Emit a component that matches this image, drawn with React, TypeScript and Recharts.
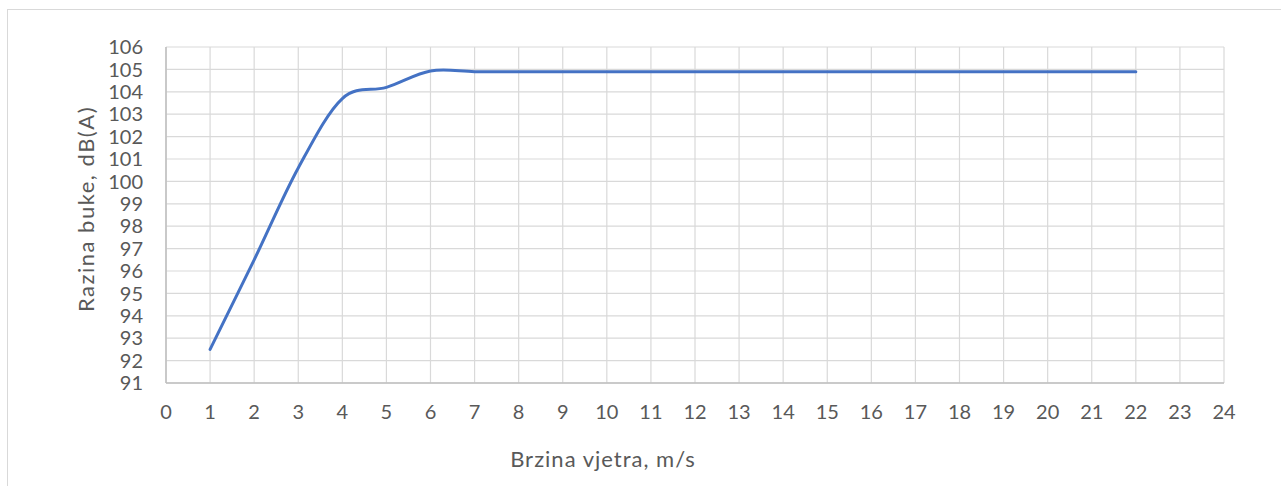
import React from "react";
import { LineChart, Line, XAxis, YAxis, CartesianGrid } from "recharts";

const windSpeeds = [1, 2, 3, 4, 5, 6, 7, 8, 9, 10, 11, 12, 13, 14, 15, 16, 17, 18, 19, 20, 21, 22];
const noiseLevels = [
  92.5, 96.5, 100.6, 103.7, 104.2, 104.93, 104.9, 104.9, 104.9, 104.9, 104.9, 104.9, 104.9, 104.9, 104.9, 104.9,
  104.9, 104.9, 104.9, 104.9, 104.9, 104.9,
];
const xTicks = [0, 1, 2, 3, 4, 5, 6, 7, 8, 9, 10, 11, 12, 13, 14, 15, 16, 17, 18, 19, 20, 21, 22, 23, 24];
const yTicks = [91, 92, 93, 94, 95, 96, 97, 98, 99, 100, 101, 102, 103, 104, 105, 106];

const chartData = windSpeeds.map((v, i) => ({ speed: v, level: noiseLevels[i] }));

const FONT = "Lato, 'Open Sans', sans-serif";
const TEXT = "#595959";

// Excel-like smoothed line (Catmull-Rom through the points)
function excelSmooth(context: any) {
  let pts: number[][] = [];
  return {
    areaStart() {},
    areaEnd() {},
    lineStart() {
      pts = [];
    },
    lineEnd() {
      if (!pts.length) return;
      context.moveTo(pts[0][0], pts[0][1]);
      for (let i = 0; i < pts.length - 1; i++) {
        const p0 = pts[i - 1] || pts[i];
        const p1 = pts[i];
        const p2 = pts[i + 1];
        const p3 = pts[i + 2] || p2;
        context.bezierCurveTo(
          p1[0] + (p2[0] - p0[0]) / 6,
          p1[1] + (p2[1] - p0[1]) / 6,
          p2[0] - (p3[0] - p1[0]) / 6,
          p2[1] - (p3[1] - p1[1]) / 6,
          p2[0],
          p2[1]
        );
      }
    },
    point(x: number, y: number) {
      pts.push([+x, +y]);
    },
  };
}

export default function App() {
  return (
    <div style={{ position: "absolute", left: 0, top: 0, width: 1281, height: 486, overflow: "hidden", background: "#fff" }}>
      <div
        style={{
          position: "absolute",
          left: 7,
          top: 9,
          width: 1400,
          height: 600,
          border: "1px solid #d9d9d9",
        }}
      />
      <LineChart
        width={1281}
        height={486}
        data={chartData}
        margin={{ top: 47, right: 57, left: 106, bottom: 53 }}
        style={{ position: "absolute", left: 0, top: 0 }}
      >
        <CartesianGrid stroke="#d9d9d9" strokeWidth={1.2} />
        <XAxis
          dataKey="speed"
          type="number"
          domain={[0, 24]}
          ticks={xTicks}
          interval={0}
          height={50}
          axisLine={{ stroke: "#bfbfbf", strokeWidth: 1.5 }}
          tickLine={false}
          tickSize={0}
          tickMargin={22}
          tick={{ fill: TEXT, fontSize: 20, fontFamily: FONT }}
        />
        <YAxis
          type="number"
          domain={[91, 106]}
          ticks={yTicks}
          interval={0}
          width={60}
          axisLine={{ stroke: "#bfbfbf", strokeWidth: 1.5 }}
          tickLine={false}
          tickSize={0}
          tickMargin={23}
          tick={{ fill: TEXT, fontSize: 20, fontFamily: FONT }}
        />
        <Line
          dataKey="level"
          type={excelSmooth as any}
          stroke="#4472C4"
          strokeWidth={3}
          strokeLinecap="round"
          dot={false}
          activeDot={false}
          isAnimationActive={false}
        />
        <text
          x={85}
          y={209}
          transform="rotate(-90 85 209)"
          textAnchor="middle"
          dominantBaseline="central"
          fill={TEXT}
          fontSize={22}
          letterSpacing={1.5}
          fontFamily={FONT}
        >
          Razina buke, dB(A)
        </text>
        <text
          x={603}
          y={458}
          textAnchor="middle"
          dominantBaseline="central"
          fill={TEXT}
          fontSize={22}
          letterSpacing={1}
          fontFamily={FONT}
        >
          Brzina vjetra, m/s
        </text>
      </LineChart>
    </div>
  );
}
